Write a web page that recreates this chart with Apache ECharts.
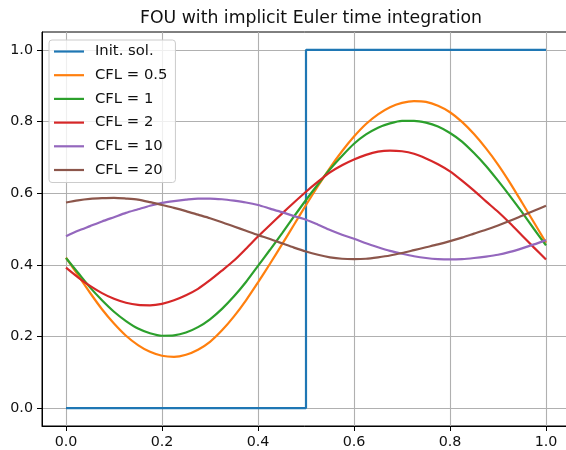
<!DOCTYPE html>
<html>
<head>
<meta charset="utf-8">
<script src="https://cdn.jsdelivr.net/npm/echarts@6/dist/echarts.min.js"></script>
<style>
html,body{margin:0;padding:0;background:#fff;}
#chart{width:566px;height:450px;}
</style>
</head>
<body>
<div id="chart"></div>
<script>
// ---- data ----
const xs = [0, 0.025, 0.05, 0.075, 0.1, 0.125, 0.15, 0.175, 0.2, 0.225, 0.25, 0.275, 0.3, 0.325, 0.35, 0.375, 0.4, 0.425, 0.45, 0.475, 0.5,
            0.525, 0.55, 0.575, 0.6, 0.625, 0.65, 0.675, 0.7, 0.725, 0.75, 0.775, 0.8, 0.825, 0.85, 0.875, 0.9, 0.925, 0.95, 0.975, 1.0];
const initX = [0, 0.5, 0.5, 1.0];
const initY = [0, 0, 1, 1];
const cfl05 = [0.420, 0.371, 0.322, 0.276, 0.236, 0.202, 0.176, 0.157, 0.146, 0.143, 0.149, 0.163, 0.185, 0.217, 0.256, 0.301, 0.351, 0.403, 0.457, 0.512, 0.567,
               0.620, 0.671, 0.717, 0.758, 0.793, 0.820, 0.840, 0.852, 0.857, 0.855, 0.844, 0.826, 0.799, 0.765, 0.725, 0.680, 0.629, 0.574, 0.518, 0.462];
const cfl1  = [0.419, 0.378, 0.337, 0.301, 0.269, 0.243, 0.222, 0.209, 0.202, 0.203, 0.211, 0.226, 0.248, 0.277, 0.312, 0.352, 0.397, 0.442, 0.488, 0.535, 0.581,
               0.625, 0.667, 0.704, 0.738, 0.764, 0.783, 0.795, 0.802, 0.802, 0.797, 0.786, 0.768, 0.744, 0.712, 0.676, 0.635, 0.592, 0.547, 0.500, 0.454];
const cfl2  = [0.392, 0.365, 0.341, 0.321, 0.305, 0.294, 0.288, 0.287, 0.291, 0.301, 0.315, 0.333, 0.357, 0.384, 0.412, 0.445, 0.479, 0.511, 0.543, 0.574, 0.604,
               0.632, 0.658, 0.678, 0.694, 0.707, 0.716, 0.719, 0.717, 0.710, 0.697, 0.681, 0.661, 0.635, 0.607, 0.577, 0.548, 0.516, 0.482, 0.448, 0.415];
const cfl10 = [0.480, 0.495, 0.508, 0.521, 0.533, 0.545, 0.555, 0.565, 0.573, 0.578, 0.582, 0.585, 0.585, 0.583, 0.579, 0.574, 0.567, 0.557, 0.547, 0.536, 0.526,
               0.512, 0.497, 0.484, 0.473, 0.460, 0.449, 0.439, 0.431, 0.424, 0.419, 0.416, 0.415, 0.416, 0.419, 0.423, 0.428, 0.436, 0.446, 0.457, 0.469];
const cfl20 = [0.574, 0.580, 0.584, 0.586, 0.587, 0.585, 0.582, 0.575, 0.567, 0.559, 0.550, 0.540, 0.530, 0.519, 0.507, 0.495, 0.483, 0.472, 0.460, 0.448, 0.437,
               0.428, 0.421, 0.417, 0.416, 0.417, 0.421, 0.426, 0.433, 0.441, 0.449, 0.457, 0.466, 0.476, 0.487, 0.498, 0.510, 0.523, 0.537, 0.551, 0.565];
const names = ['Init. sol.', 'CFL = 0.5', 'CFL = 1', 'CFL = 2', 'CFL = 10', 'CFL = 20'];
const colors = ['#1f77b4', '#ff7f0e', '#2ca02c', '#d62728', '#9467bd', '#8c564b'];
const tickVals = [0, 0.2, 0.4, 0.6, 0.8, 1.0];
const title = 'FOU with implicit Euler time integration';

const pair = (xa, ya) => xa.map((x, i) => [x, ya[i]]);
const curves = [cfl05, cfl1, cfl2, cfl10, cfl20];

const font = 'DejaVu Sans';
const lw = 2.2;
const series = [{
  name: names[0], type: 'line', data: pair(initX, initY), symbol: 'none',
  lineStyle: {width: lw, color: colors[0]}, itemStyle: {color: colors[0]}
}].concat(curves.map((c, i) => ({
  name: names[i + 1], type: 'line', data: pair(xs, c), symbol: 'none', smooth: 0.25,
  lineStyle: {width: lw, color: colors[i + 1]}, itemStyle: {color: colors[i + 1]}
})));

const axisCommon = {
  type: 'value', min: -0.05, max: 1.05,
  axisLine: {show: true, onZero: false, lineStyle: {color: '#000', width: 1}},
  axisTick: {show: true, customValues: tickVals, length: 5, lineStyle: {color: '#000', width: 1}},
  axisLabel: {customValues: tickVals, color: '#111', fontFamily: font, fontSize: 14.3, margin: 9,
              formatter: v => v.toFixed(1)},
  splitLine: {show: true, lineStyle: {color: '#b0b0b0', width: 1.1}}
};

const chart = echarts.init(document.getElementById('chart'), null, {renderer: 'canvas'});
chart.setOption({
  animation: false,
  backgroundColor: '#fff',
  title: {
    text: title, left: 306, textAlign: 'center', top: 5,
    textStyle: {fontFamily: font, fontSize: 17.3, fontWeight: 'normal', color: '#111'}
  },
  grid: {left: 42, right: -4, top: 32, bottom: 24, outerBoundsMode: 'none', containLabel: false,
         show: true, borderColor: '#000', borderWidth: 1, backgroundColor: 'transparent'},
  xAxis: Object.assign({}, axisCommon),
  yAxis: Object.assign({}, axisCommon),
  legend: {
    orient: 'vertical', left: 49, top: 40,
    data: names,
    icon: 'path://M0,0 L30,0 L30,2.2 L0,2.2 Z',
    itemWidth: 30, itemHeight: 14, itemGap: 8.7,
    padding: [4, 8, 5, 5],
    backgroundColor: 'rgba(255,255,255,0.8)', borderColor: '#cccccc', borderWidth: 1, borderRadius: 3,
    textStyle: {fontFamily: font, fontSize: 14.8, lineHeight: 14, color: '#111', padding: [0, 0, 0, 6]}
  },
  series: series
});
</script>
</body>
</html>
